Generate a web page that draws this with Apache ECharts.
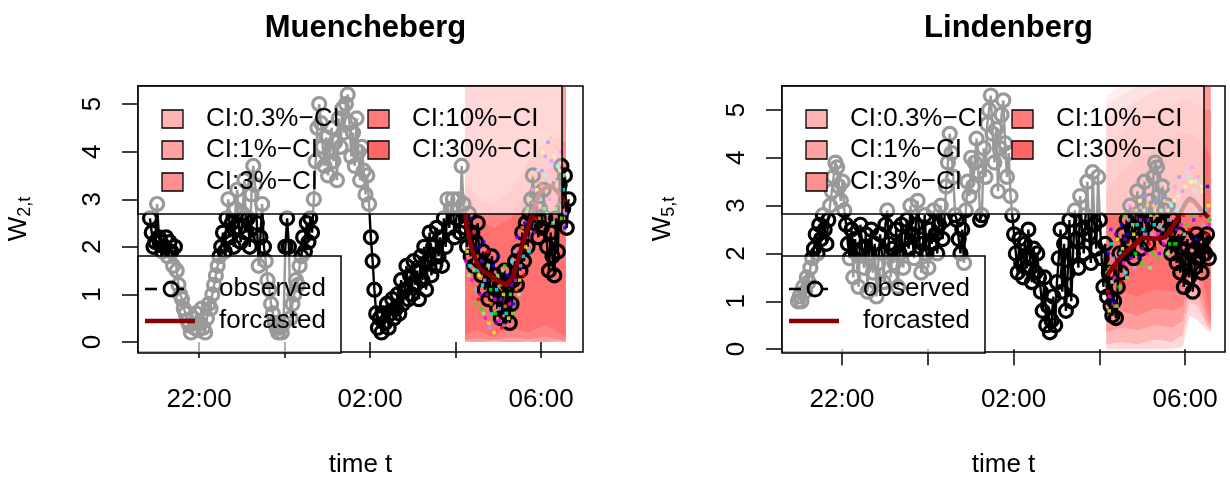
<!DOCTYPE html>
<html>
<head>
<meta charset="utf-8">
<script src="https://cdn.jsdelivr.net/npm/echarts@6.0.0/dist/echarts.min.js"></script>
<style>
  html, body { margin: 0; padding: 0; background: #fff; }
  #main { width: 1230px; height: 483px; }
</style>
</head>
<body>
<div id="main"></div>
<script>
const FONT = "'Liberation Sans', Arial, Helvetica, sans-serif";

// ---- labels ----
const stationNames = ['Muencheberg', 'Lindenberg'];
const ySubscripts = ['2,t', '5,t'];
const tickHours = [22, 24, 26, 28, 30];
const labelHours = [22, 26, 30];
const yTicks = [0, 1, 2, 3, 4, 5];
const ciLabels = ['CI:0.3%\u2212CI', 'CI:1%\u2212CI', 'CI:3%\u2212CI', 'CI:10%\u2212CI', 'CI:30%\u2212CI'];
const lineLabels = ['observed', 'forcasted'];

// ---- observed series (2.5 minute steps, hours counted from midnight of day 1) ----
const obsStep = 2.5 / 60;
const obsStartM = 20.85;
const obsM = [
  2.6, 2.3, 2.0, 2.1, 2.9, 2.2, 2.1, 1.9, 2.0, 2.2,
  1.8, 2.1, 1.9, 1.6, 2.0, 1.5, 1.2, 1.0, 0.9, 0.7,
  0.6, 0.45, 0.35, 0.2, 0.5, 0.3, 0.6, 0.25, 0.4, 0.7,
  0.3, 0.2, 0.5, 0.8, 0.7, 1.0, 1.2, 1.4, 1.6, 1.8,
  2.0, 2.3, 1.9, 2.6, 3.0, 2.2, 2.5, 2.0, 2.8, 3.2,
  2.4, 2.1, 2.7, 3.4, 2.3, 2.6, 2.0, 3.1, 3.7, 3.3,
  2.5, 1.6, 2.2, 2.9, 2.0, 1.7, 1.3, 1.1, 0.8, 0.6,
  0.4, 0.3, 0.2, 0.3, 0.2, 0.4, 2.0, 2.6, 2.0, 0.5,
  0.8, 1.0, 1.3, 1.2, 1.6, 1.8, 2.2, 1.9, 2.5, 2.1,
  2.6, 2.3, 3.0, 3.8, 4.5, 5.0, 4.6, 4.1, 3.7, 4.3,
  3.5, 4.0, 4.5, 3.8, 4.2, 3.4, 4.7, 4.1, 4.9, 4.4,
  5.0, 5.2, 4.6, 3.9, 4.4, 3.7, 4.7, 4.0, 3.4, 4.1,
  3.6, 3.1, 3.5, 2.9, 2.2, 1.7, 1.1, 0.6, 0.3, 0.5,
  0.2, 0.6, 0.4, 0.8, 0.3, 0.6, 0.9, 0.5, 0.7, 1.0,
  0.6, 1.3, 0.8, 1.1, 1.6, 0.9, 1.4, 1.0, 1.7, 1.2,
  1.5, 0.9, 1.8, 1.3, 2.0, 1.1, 1.7, 2.3, 1.4, 2.0,
  1.6, 2.4, 1.8, 2.2, 1.6, 2.6, 2.0, 3.0, 2.4, 2.8,
  3.0, 2.2, 2.6, 3.0, 2.3, 3.7, 2.9, 2.4, 2.0, 2.7,
  1.8, 2.3, 1.6, 2.1, 2.5, 1.7, 1.4, 1.9, 1.1, 1.6,
  0.9, 1.3, 1.8, 1.0, 1.4, 0.7, 1.1, 0.5, 0.9, 1.5,
  0.6, 1.2, 0.4, 0.8, 1.3, 1.7, 1.2, 1.9, 1.5, 2.3,
  1.7, 2.5, 2.0, 2.7, 3.0, 3.5, 2.5, 3.1, 2.2, 2.8,
  2.4, 3.2, 2.6, 2.0, 1.5, 2.3, 1.8, 1.4, 2.6, 1.9,
  3.3, 3.7, 2.8, 3.5, 2.4, 3.0
];
const obsStartL = 20.97;
const obsL = [
  1.0, 1.1, 1.0, 1.3, 1.2, 1.5, 1.4, 1.7, 1.9, 2.1,
  2.4, 2.0, 2.6, 2.3, 2.8, 2.5, 2.2, 2.7, 3.0, 3.3,
  3.6, 3.9, 3.8, 3.4, 3.1, 3.5, 2.9, 2.6, 2.2, 1.9,
  2.5, 1.5, 2.3, 2.0, 1.3, 2.6, 2.1, 1.7, 2.4, 1.2,
  2.0, 2.5, 1.6, 2.2, 1.1, 1.8, 2.4, 2.0, 1.4, 2.6,
  2.9, 2.2, 1.5, 2.1, 1.8, 2.5, 1.3, 2.0, 2.6, 1.7,
  2.3, 2.7, 2.1, 3.0, 2.4, 1.9, 2.6, 3.1, 2.3, 1.6,
  2.2, 2.8, 2.0, 1.7, 2.5, 2.2, 2.9, 2.4, 2.0, 2.6,
  3.0, 2.3, 2.7, 3.4, 3.9, 4.5, 4.1, 3.6, 2.8, 2.7,
  2.3, 2.0, 2.5, 1.8, 2.9, 3.5, 3.2, 4.0, 3.4, 3.9,
  4.4, 3.7, 2.7, 2.8, 4.2, 3.6, 4.7, 5.0, 5.3, 4.5,
  3.9, 4.6, 3.3, 4.2, 4.9, 5.2, 4.3, 3.6, 4.1, 3.2,
  2.8, 2.4, 2.0, 1.6, 2.3, 1.8, 1.5, 2.2, 1.7, 2.5,
  1.9, 1.4, 2.1, 1.6, 2.0, 1.5, 1.2, 0.8, 1.5, 0.5,
  0.9, 0.35, 0.6, 1.1, 0.5, 1.4, 1.9, 2.5, 1.2, 2.2,
  0.8, 1.6, 2.7, 1.0, 2.0, 2.9, 2.3, 1.7, 3.2, 2.5,
  2.0, 2.8, 3.5, 2.4, 1.8, 3.7, 2.6, 2.1, 3.6, 2.7,
  1.9, 1.3, 2.2, 1.1, 1.6, 0.9, 0.7, 1.0, 0.65, 1.3,
  2.0, 1.6, 2.4, 2.0, 2.7, 2.2, 3.0, 2.5, 1.9, 2.8,
  3.3, 2.4, 2.1, 2.9, 3.5, 2.6, 2.2, 3.1, 2.7, 3.6,
  3.9, 3.8, 3.2, 2.6, 3.4, 2.9, 2.3, 3.0, 2.5, 2.0,
  2.7, 2.2, 1.8, 2.4, 1.6, 2.1, 1.3, 1.9, 2.3, 1.5,
  2.0, 1.2, 1.7, 2.4, 1.9, 2.2, 1.6, 2.3, 2.0, 2.4,
  1.9
];

// ---- forecast (median path) ----
const fcTimeM = [28.22, 28.29, 28.41, 28.57, 28.81, 29.16, 29.35, 29.58, 29.79, 29.98, 30.21, 30.40, 30.56];
const fcValM  = [2.75, 2.30, 1.88, 1.55, 1.40, 1.23, 1.40, 2.10, 2.66, 3.14, 3.28, 3.14, 2.93];
const fcTimeL = [28.18, 28.48, 28.79, 29.02, 29.25, 29.49, 29.72, 29.88, 30.12, 30.35, 30.54];
const fcValL  = [1.54, 1.90, 2.17, 2.33, 2.31, 2.33, 2.58, 2.83, 3.15, 2.94, 2.75];

// ---- CI bands (0.3%, 1%, 3%, 10%, 30%) ----
const bandTimeM = [28.22, 28.5, 28.9, 29.3, 29.7, 30.1, 30.4, 30.58];
const bandLoM = [
  [0, 0, 0, 0, 0, 0, 0, 0],
  [0, 0, 0, 0, 0, 0, 0, 0],
  [0.02, 0, 0.03, 0, 0.02, 0, 0.03, 0],
  [0.05, 0.08, 0.04, 0.1, 0.06, 0.12, 0.05, 0.03],
  [0.15, 0.25, 0.1, 0.3, 0.2, 0.35, 0.2, 0.1]
];
const bandHiM = [
  [6, 6, 6, 6, 6, 6, 6, 6],
  [6, 6, 6, 6, 6, 6, 6, 6],
  [6, 6, 6, 6, 6, 6, 6, 6],
  [3.4, 3.0, 2.9, 3.2, 3.8, 4.2, 4.3, 4.2],
  [2.9, 2.6, 2.4, 2.6, 3.2, 3.6, 3.8, 3.6]
];
const bandTimeL = [28.16, 28.5, 28.9, 29.3, 29.7, 29.95, 30.1, 30.3, 30.5, 30.6];
const bandLoL = [
  [0, 0, 0, 0, 0, 0.05, 0.7, 0.6, 0.4, 0.35],
  [0.1, 0.15, 0.1, 0.2, 0.15, 0.3, 1.0, 0.9, 0.5, 0.4],
  [0.35, 0.45, 0.4, 0.5, 0.45, 0.6, 1.3, 1.2, 0.6, 0.45],
  [0.6, 0.8, 0.7, 0.85, 0.8, 0.9, 1.6, 1.5, 0.8, 0.5],
  [1.0, 1.2, 1.1, 1.25, 1.2, 1.3, 1.9, 1.8, 1.1, 0.6]
];
const bandHiL = [
  [5.3, 5.5, 5.6, 5.6, 5.6, 5.6, 5.6, 5.6, 5.6, 5.6],
  [5.1, 5.3, 5.5, 5.6, 5.6, 5.6, 5.6, 5.6, 5.6, 5.6],
  [4.8, 5.0, 5.2, 5.4, 5.5, 5.5, 5.5, 5.5, 5.5, 5.5],
  [4.2, 4.5, 4.8, 5.0, 5.1, 5.2, 5.2, 5.1, 5.0, 5.0],
  [3.3, 3.7, 4.0, 4.2, 4.4, 4.5, 4.5, 4.4, 4.2, 4.0]
];

// ---- simulated paths (sample points) ----
const simM = [
  [28.25, 2.4], [28.27, 1.9], [28.30, 2.2], [28.32, 1.6], [28.35, 2.6], [28.38, 1.3], [28.40, 2.0], [28.43, 1.5], [28.46, 1.1], [28.50, 1.8],
  [28.53, 0.9], [28.56, 1.4], [28.60, 0.7], [28.63, 1.2], [28.66, 2.1], [28.70, 0.5], [28.73, 1.0], [28.76, 1.6], [28.80, 0.3], [28.83, 0.8],
  [28.86, 1.3], [28.90, 0.2], [28.93, 0.6], [28.96, 1.1], [29.00, 1.8], [29.03, 0.45], [29.06, 0.9], [29.10, 1.5], [29.13, 0.35], [29.16, 0.75],
  [29.20, 1.2], [29.24, 0.5], [29.28, 1.0], [29.32, 1.7], [29.36, 0.8], [29.40, 1.3], [29.44, 2.2], [29.48, 1.0], [29.52, 1.6], [29.56, 2.4],
  [29.60, 1.4], [29.64, 2.0], [29.68, 2.8], [29.72, 1.9], [29.76, 2.5], [29.80, 3.2], [29.84, 2.3], [29.88, 2.9], [29.92, 3.6], [29.96, 2.6],
  [30.00, 3.3], [30.04, 4.0], [30.08, 2.8], [30.12, 3.5], [30.16, 4.2], [30.20, 3.0], [30.24, 3.8], [30.28, 2.5], [30.32, 3.4], [30.36, 4.1],
  [30.40, 2.9], [30.44, 3.6], [30.48, 2.6], [30.52, 3.2], [30.56, 2.4],
  [28.24, 1.7], [28.28, 2.5], [28.31, 1.4], [28.34, 2.0], [28.37, 1.1], [28.42, 2.3], [28.45, 1.7], [28.48, 0.8], [28.52, 1.5], [28.55, 2.0],
  [28.58, 1.0], [28.62, 1.7], [28.65, 0.6], [28.68, 1.3], [28.72, 0.9], [28.75, 1.9], [28.78, 0.4], [28.82, 1.1], [28.85, 0.6], [28.88, 1.6],
  [28.92, 0.9], [28.95, 0.4], [28.98, 1.4], [29.02, 0.7], [29.05, 1.2], [29.08, 0.3], [29.12, 1.0], [29.15, 1.6], [29.18, 0.6], [29.22, 1.4],
  [29.26, 0.8], [29.30, 1.2], [29.34, 0.6], [29.38, 1.9], [29.42, 1.1], [29.46, 1.7], [29.50, 1.3], [29.54, 2.0], [29.58, 1.8], [29.62, 2.5],
  [29.66, 2.2], [29.70, 2.4], [29.74, 3.0], [29.78, 2.7], [29.82, 3.5], [29.86, 2.6], [29.90, 3.2], [29.94, 3.9], [29.98, 3.0], [30.02, 3.6],
  [30.06, 3.2], [30.10, 3.9], [30.14, 2.7], [30.18, 3.7], [30.22, 4.3], [30.26, 3.3], [30.30, 3.9], [30.34, 2.8], [30.38, 3.7], [30.42, 3.1],
  [30.46, 4.0], [30.50, 2.9], [30.54, 3.5], [30.57, 2.7]
];
const simL = [
  [28.20, 1.2], [28.23, 0.8], [28.26, 1.7], [28.29, 2.2], [28.32, 1.0], [28.35, 1.5], [28.38, 2.4], [28.41, 0.9], [28.44, 1.9], [28.47, 2.6],
  [28.50, 1.4], [28.54, 2.1], [28.58, 2.8], [28.62, 1.6], [28.66, 2.4], [28.70, 3.0], [28.74, 1.9], [28.78, 2.6], [28.82, 1.7], [28.86, 2.9],
  [28.90, 2.2], [28.94, 3.1], [28.98, 1.8], [29.02, 2.5], [29.06, 3.2], [29.10, 2.0], [29.14, 2.7], [29.18, 1.7], [29.22, 2.4], [29.26, 3.0],
  [29.30, 2.1], [29.34, 2.8], [29.38, 1.9], [29.42, 2.6], [29.46, 3.2], [29.50, 2.2], [29.54, 2.9], [29.58, 2.0], [29.62, 2.7], [29.66, 3.4],
  [29.70, 2.4], [29.74, 3.1], [29.78, 2.2], [29.82, 2.9], [29.86, 3.6], [29.90, 2.6], [29.94, 3.3], [29.98, 2.4], [30.02, 3.7], [30.06, 3.0],
  [30.10, 2.5], [30.14, 3.5], [30.18, 2.8], [30.22, 3.3], [30.26, 2.3], [30.30, 3.6], [30.34, 2.9], [30.38, 3.4], [30.42, 2.6], [30.46, 3.1],
  [30.50, 2.4], [30.54, 3.0], [30.58, 2.7],
  [28.18, 1.6], [28.21, 2.0], [28.24, 1.1], [28.27, 2.5], [28.30, 1.4], [28.33, 1.9], [28.36, 0.9], [28.40, 1.7], [28.43, 2.3], [28.46, 1.3],
  [28.49, 2.0], [28.52, 2.6], [28.56, 1.8], [28.60, 2.3], [28.64, 1.5], [28.68, 2.7], [28.72, 2.2], [28.76, 2.9], [28.80, 2.4], [28.84, 2.0],
  [28.88, 2.6], [28.92, 1.9], [28.96, 2.7], [29.00, 2.1], [29.04, 2.9], [29.08, 2.4], [29.12, 3.0], [29.16, 2.2], [29.20, 2.8], [29.24, 2.0],
  [29.28, 2.6], [29.32, 3.1], [29.36, 2.4], [29.40, 2.0], [29.44, 2.9], [29.48, 2.5], [29.52, 3.1], [29.56, 2.4], [29.60, 2.9], [29.64, 2.2],
  [29.68, 3.0], [29.72, 2.6], [29.76, 3.4], [29.80, 2.5], [29.84, 3.2], [29.88, 3.0], [29.92, 3.7], [29.96, 2.8], [30.00, 3.4], [30.04, 2.6],
  [30.08, 3.6], [30.12, 3.1], [30.16, 3.8], [30.20, 2.7], [30.24, 3.5], [30.28, 3.0], [30.32, 3.7], [30.36, 2.8], [30.40, 3.3], [30.44, 3.6],
  [30.48, 2.9], [30.52, 3.4], [30.56, 2.6]
];

// ---- styling ----
const ciKeyColors = ['#ffb4b4', '#ffa2a2', '#ff8e8e', '#ff7a7a', '#ff6666'];
const bandFill = 'rgba(255, 0, 0, 0.15)';
const simPalette = ['#ff0000', '#ffff00', '#00ff00', '#00ffff', '#0000ff', '#ff00ff', '#8000ff', '#80ff80', '#a0a0ff', '#ff8000'];
const overlay = 'rgba(255, 255, 255, 0.6)';

const panels = [
  { grid: { left: 138, top: 86, width: 445, height: 267 }, x: [20.57, 30.98], y: [-0.21, 5.38],
    obsStart: obsStartM, obs: obsM, fcT: fcTimeM, fcV: fcValM, bT: bandTimeM, bLo: bandLoM, bHi: bandHiM, sim: simM },
  { grid: { left: 782, top: 86, width: 443, height: 267 }, x: [20.6, 30.93], y: [-0.06, 5.5],
    obsStart: obsStartL, obs: obsL, fcT: fcTimeL, fcV: fcValL, bT: bandTimeL, bLo: bandLoL, bHi: bandHiL, sim: simL }
];

function hourLabel(v) {
  const h = Math.round(v) % 24;
  return (h < 10 ? '0' : '') + h + ':00';
}

const chart = echarts.init(document.getElementById('main'));
const grids = [], xAxes = [], yAxes = [], series = [], titles = [], graphics = [];

panels.forEach((p, gi) => {
  grids.push(Object.assign({ show: true, borderColor: '#000', borderWidth: 1.5, backgroundColor: 'transparent' }, p.grid));
  titles.push({
    text: stationNames[gi], left: p.grid.left + p.grid.width / 2, top: 8, textAlign: 'center',
    textStyle: { fontFamily: FONT, fontSize: 31, fontWeight: 'bold', color: '#000' }
  });
  xAxes.push({
    type: 'value', gridIndex: gi, min: p.x[0], max: p.x[1],
    axisLine: { show: false }, splitLine: { show: false },
    axisTick: { show: true, length: 16, lineStyle: { color: '#000', width: 1.5 }, customValues: tickHours },
    axisLabel: { customValues: labelHours, formatter: hourLabel, fontFamily: FONT, fontSize: 26, color: '#000', margin: 35 },
    name: 'time t', nameLocation: 'middle', nameGap: 100,
    nameTextStyle: { fontFamily: FONT, fontSize: 26, color: '#000' }
  });
  yAxes.push({
    type: 'value', gridIndex: gi, min: p.y[0], max: p.y[1],
    axisLine: { show: false }, splitLine: { show: false },
    axisTick: { show: true, length: 16, lineStyle: { color: '#000', width: 1.5 }, customValues: yTicks },
    axisLabel: { customValues: yTicks, rotate: 90, fontFamily: FONT, fontSize: 26, color: '#000', margin: 32 },
    name: '{w|W}{s|' + ySubscripts[gi] + '}', nameLocation: 'middle', nameGap: 104, nameRotate: 90,
    nameTextStyle: {
      rich: {
        w: { fontFamily: FONT, fontSize: 26, color: '#000' },
        s: { fontFamily: FONT, fontSize: 18, color: '#000', padding: [12, 0, 0, 0] }
      }
    }
  });

  const yMax = p.y[1];
  series.push({
    type: 'custom', xAxisIndex: gi, yAxisIndex: gi, clip: true, silent: true, z: 1,
    data: p.bLo.map((lo, k) => [p.bT[0], lo[0], k]),
    renderItem: (params, api) => {
      const k = params.dataIndex;
      const pts = [];
      for (let i = 0; i < p.bT.length; i++) pts.push(api.coord([p.bT[i], Math.min(p.bHi[k][i], yMax)]));
      for (let i = p.bT.length - 1; i >= 0; i--) pts.push(api.coord([p.bT[i], p.bLo[k][i]]));
      return { type: 'polygon', shape: { points: pts }, style: { fill: bandFill } };
    }
  });
  series.push({
    type: 'line', xAxisIndex: gi, yAxisIndex: gi, z: 3, silent: true,
    data: p.obs.map((v, i) => [p.obsStart + i * obsStep, v]),
    symbol: 'circle', symbolSize: 13, showAllSymbol: true,
    itemStyle: { color: 'rgba(0,0,0,0)', borderColor: '#000', borderWidth: 3.2 },
    lineStyle: { color: '#000', width: 2.4 }
  });
  series.push({
    type: 'scatter', xAxisIndex: gi, yAxisIndex: gi, z: 4, silent: true,
    data: p.sim, symbol: 'rect', symbolSize: 3.5,
    itemStyle: { color: (d) => simPalette[d.dataIndex % simPalette.length] }
  });
  series.push({
    type: 'line', xAxisIndex: gi, yAxisIndex: gi, z: 5, silent: true,
    data: p.fcT.map((t, i) => [t, p.fcV[i]]),
    symbol: 'none', smooth: 0.3,
    lineStyle: { color: '#8b0000', width: 4.5 }
  });

  // legend boxes (semi-transparent, drawn over the data like in R)
  const x0 = p.grid.left, y0 = p.grid.top, yb = p.grid.top + p.grid.height;
  const topW = p.grid.width - 21, botTop = y0 + 170, botW = 203;
  graphics.push({ type: 'rect', z: 100, shape: { x: x0, y: y0, width: topW, height: 128 },
    style: { fill: overlay, stroke: '#000', lineWidth: 1.5 } });
  graphics.push({ type: 'rect', z: 100, shape: { x: x0, y: botTop, width: botW, height: yb - botTop },
    style: { fill: overlay, stroke: '#000', lineWidth: 1.5 } });
  const rows = [33, 64, 96];
  ciLabels.forEach((lab, k) => {
    const col = k < 3 ? 0 : 1;
    const ry = y0 + rows[k % 3];
    const kx = x0 + (col ? 230 : 24);
    graphics.push({ type: 'rect', z: 101, shape: { x: kx, y: ry - 9, width: 21, height: 18 },
      style: { fill: ciKeyColors[k], stroke: '#000', lineWidth: 1.3 } });
    graphics.push({ type: 'text', z: 101, x: x0 + (col ? 274 : 68), y: ry,
      style: { text: lab, fontFamily: FONT, fontSize: 26, fill: '#000', verticalAlign: 'middle' } });
  });
  const r1 = botTop + 33, r2 = botTop + 65;
  graphics.push({ type: 'line', z: 101, shape: { x1: x0 + 7, y1: r1, x2: x0 + 19, y2: r1 }, style: { stroke: '#000', lineWidth: 2.6 } });
  graphics.push({ type: 'line', z: 101, shape: { x1: x0 + 41, y1: r1, x2: x0 + 46, y2: r1 }, style: { stroke: '#000', lineWidth: 2.6 } });
  graphics.push({ type: 'circle', z: 101, shape: { cx: x0 + 33, cy: r1, r: 7 }, style: { fill: 'none', stroke: '#000', lineWidth: 2.8 } });
  graphics.push({ type: 'line', z: 101, shape: { x1: x0 + 7, y1: r2, x2: x0 + 57, y2: r2 }, style: { stroke: '#8b0000', lineWidth: 4.5 } });
  lineLabels.forEach((lab, k) => {
    graphics.push({ type: 'text', z: 101, x: x0 + 81, y: k ? r2 : r1,
      style: { text: lab, fontFamily: FONT, fontSize: 26, fill: '#000', verticalAlign: 'middle' } });
  });
});

chart.setOption({
  animation: false,
  backgroundColor: '#fff',
  title: titles,
  grid: grids,
  xAxis: xAxes,
  yAxis: yAxes,
  series: series,
  graphic: { elements: graphics }
});
</script>
</body>
</html>
